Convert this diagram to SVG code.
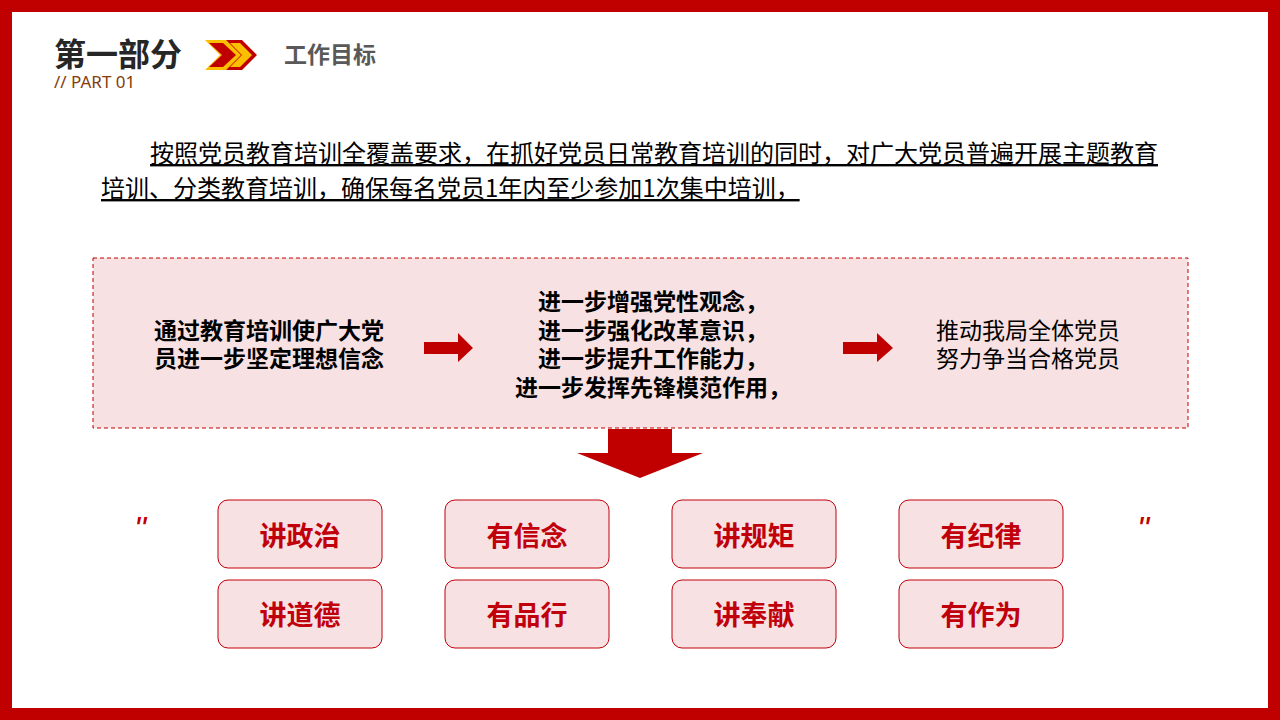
<svg xmlns="http://www.w3.org/2000/svg" width="1280" height="720" viewBox="0 0 1280 720">
<style>
.cj{font-family:"Noto Sans CJK SC","Noto Sans",sans-serif}
.b{font-weight:bold}
.tag rect{fill:#f7e1e2;stroke:#c0000b;stroke-width:1}
.tag text{font-family:"Noto Sans CJK SC",sans-serif;font-weight:bold;font-size:27px;fill:#c0000b;text-anchor:middle}
</style>
<rect width="1280" height="720" fill="#c00000"/>
<rect x="12" y="12" width="1256" height="696" fill="#fff"/>
<g id="header">
<text x="54" y="66" class="cj b" font-size="32" fill="#262626">第一部分</text>
<polygon points="205,40 227,40 242,55 227,70 205,70 220,55" fill="#fbbf00"/>
<polygon points="209,43 223,43 236,55 223,67 209,67 222,55" fill="#c00000"/>
<polygon points="226,40 242,40 257,55 242,70 226,70 241,55" fill="#c00000"/>
<polygon points="230,43 240,43 252,55 240,67 230,67 242,55" fill="#fbbf00"/>
<text x="284" y="63" class="cj b" font-size="23" fill="#595959">工作目标</text>
<text x="54" y="88" font-family="Noto Sans,sans-serif" font-size="17" fill="#843c0c">// PART 01</text>
</g>
<g id="intro" class="cj" font-size="24" fill="#000" text-decoration="underline">
<text x="150" y="162">按照党员教育培训全覆盖要求，在抓好党员日常教育培训的同时，对广大党员普遍开展主题教育</text>
<text x="101" y="197">培训、分类教育培训，确保每名党员1年内至少参加1次集中培训，</text>
</g>
<g id="panel">
<rect x="93" y="258" width="1095" height="170" fill="#f7e1e2" stroke="#c00000" stroke-dasharray="4,3"/>
</g>
<g id="n1" class="cj b" font-size="23" fill="#000" text-anchor="middle">
<text x="269" y="339">通过教育培训使广大党</text><text x="269" y="367">员进一步坚定理想信念</text>
</g>
<g id="n2" class="cj b" font-size="23" fill="#000" text-anchor="middle">
<text x="653" y="310">进一步增强党性观念，</text><text x="653" y="339">进一步强化改革意识，</text>
<text x="653" y="367">进一步提升工作能力，</text><text x="653" y="396">进一步发挥先锋模范作用，</text>
</g>
<g id="n3" class="cj" font-size="23" fill="#000" text-anchor="middle">
<text x="1028" y="339">推动我局全体党员</text><text x="1028" y="367">努力争当合格党员</text>
</g>
<g id="connectors" fill="#c00000">
<polygon points="424,342 458,342 458,333 473,348 458,362 458,354 424,354"/>
<polygon points="843,342 877,342 877,333 893,348 877,362 877,354 843,354"/>
<polygon points="608,429 672,429 672,453 703,453 640,478 577,453 608,453"/>
</g>
<text x="134" y="540" font-family="Liberation Sans,sans-serif" font-size="34" font-style="italic" fill="#c00000">"</text>
<text x="1137" y="540" font-family="Liberation Sans,sans-serif" font-size="34" font-style="italic" fill="#c00000">"</text>
<g id="t1" class="tag"><rect x="218" y="500" width="164" height="68" rx="10"/><text x="300" y="546">讲政治</text></g>
<g id="t2" class="tag"><rect x="445" y="500" width="164" height="68" rx="10"/><text x="527" y="546">有信念</text></g>
<g id="t3" class="tag"><rect x="672" y="500" width="164" height="68" rx="10"/><text x="754" y="546">讲规矩</text></g>
<g id="t4" class="tag"><rect x="899" y="500" width="164" height="68" rx="10"/><text x="981" y="546">有纪律</text></g>
<g id="t5" class="tag"><rect x="218" y="580" width="164" height="68" rx="10"/><text x="300" y="625">讲道德</text></g>
<g id="t6" class="tag"><rect x="445" y="580" width="164" height="68" rx="10"/><text x="527" y="625">有品行</text></g>
<g id="t7" class="tag"><rect x="672" y="580" width="164" height="68" rx="10"/><text x="754" y="625">讲奉献</text></g>
<g id="t8" class="tag"><rect x="899" y="580" width="164" height="68" rx="10"/><text x="981" y="625">有作为</text></g>
</svg>
